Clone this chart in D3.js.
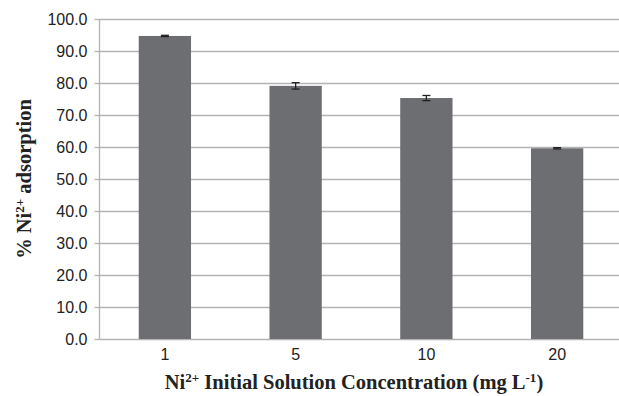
<!DOCTYPE html>
<html><head><meta charset="utf-8">
<script src="https://cdn.jsdelivr.net/npm/d3@7"></script>
<style>body{margin:0;background:#fff;}svg{display:block;}</style>
</head><body>
<svg id="chart" width="619" height="396"></svg>
<script>
const categories = ["1", "5", "10", "20"];
const values = [94.7, 79.1, 75.3, 59.6];
const errors = [0.2, 1.0, 0.8, 0.2];
const yTicks = [0, 10, 20, 30, 40, 50, 60, 70, 80, 90, 100];

const svg = d3.select("#chart");
const m = {left: 99.5, top: 19, bottom: 339};
const x = d3.scaleBand().domain(categories).range([m.left, 622.5]).paddingInner(0.6).paddingOuter(0.3);
const y = d3.scaleLinear().domain([0, 100]).range([m.bottom, m.top]);
const sans = "'Liberation Sans', Arial, sans-serif";
const serif = "'Liberation Serif', 'Times New Roman', serif";

// gridlines
svg.append("g").selectAll("line").data(yTicks).join("line")
  .attr("x1", m.left).attr("x2", 619)
  .attr("y1", d => Math.round(y(d)) + 0.5).attr("y2", d => Math.round(y(d)) + 0.5)
  .attr("stroke", "#b3b3b3").attr("stroke-width", 1.3);

// y axis
const ya = svg.append("g").attr("transform", `translate(${m.left},0)`)
  .call(d3.axisLeft(y).tickValues(yTicks).tickFormat(d3.format(".1f")).tickSize(5).tickPadding(7));
ya.select(".domain").attr("stroke", "#b3b3b3").attr("stroke-width", 1.3).attr("d", `M0,${m.top}V${m.bottom}`);
ya.selectAll(".tick line").attr("stroke", "#b3b3b3").attr("stroke-width", 1.3);
ya.selectAll(".tick text").attr("font-family", sans).attr("font-size", 16).attr("fill", "#222");

// bars
svg.append("g").selectAll("rect").data(values).join("rect")
  .attr("x", (d, i) => x(categories[i])).attr("width", x.bandwidth())
  .attr("y", d => y(d)).attr("height", d => y(0) - y(d))
  .attr("fill", "#6d6e71");

// error bars
const eg = svg.append("g").attr("stroke", "#222").attr("stroke-width", 1.3);
values.forEach((v, i) => {
  const cx = x(categories[i]) + x.bandwidth() / 2;
  const y1 = y(v + errors[i]), y2 = y(v - errors[i]);
  eg.append("line").attr("x1", cx).attr("x2", cx).attr("y1", y1).attr("y2", y2);
  eg.append("line").attr("x1", cx - 4).attr("x2", cx + 4).attr("y1", y1).attr("y2", y1);
  eg.append("line").attr("x1", cx - 4).attr("x2", cx + 4).attr("y1", y2).attr("y2", y2);
});

// x axis labels
const xa = svg.append("g").attr("transform", `translate(0,${m.bottom})`)
  .call(d3.axisBottom(x).tickSize(0).tickPadding(10));
xa.select(".domain").remove();
xa.selectAll(".tick text").attr("font-family", sans).attr("font-size", 16).attr("fill", "#222");

// x title
const xt = svg.append("text").attr("x", 354).attr("y", 389).attr("text-anchor", "middle")
  .attr("font-family", serif).attr("font-weight", "bold")
  .attr("font-size", 20.5).attr("fill", "#222");
xt.append("tspan").text("Ni");
xt.append("tspan").text("2+").attr("font-size", 13).attr("dy", -7);
xt.append("tspan").text(" Initial Solution Concentration (mg L").attr("dy", 7);
xt.append("tspan").text("-1").attr("font-size", 13).attr("dy", -7);
xt.append("tspan").text(")").attr("dy", 7);

// y title
const yt = svg.append("text").attr("transform", "translate(31,179) rotate(-90)").attr("text-anchor", "middle")
  .attr("font-family", serif).attr("font-weight", "bold")
  .attr("font-size", 20.5).attr("fill", "#222");
yt.append("tspan").text("%  Ni");
yt.append("tspan").text("2+").attr("font-size", 13).attr("dy", -7);
yt.append("tspan").text(" adsorption").attr("dy", 7);
</script>
</body></html>
